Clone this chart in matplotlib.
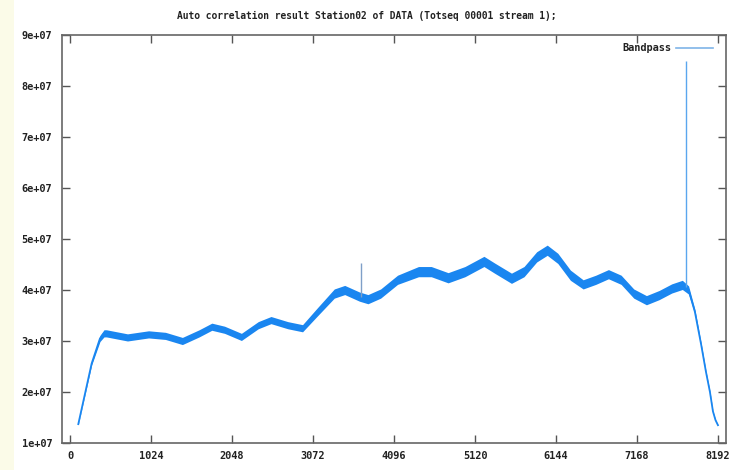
import matplotlib
matplotlib.use("Agg")
import matplotlib.pyplot as plt
import numpy as np

# ---- data ----
title = "Auto correlation result Station02 of DATA (Totseq 00001 stream 1);"
series_name = "Bandpass"
channels = [105, 274, 379, 430, 460, 727, 994, 1207, 1421, 1633, 1793, 1954,
            2167, 2380, 2541, 2753, 2940, 3127, 3341, 3473, 3660, 3767, 3927,
            4141, 4406, 4567, 4780, 4993, 5233, 5367, 5581, 5740, 5900, 6033,
            6167, 6326, 6487, 6647, 6807, 6967, 7127, 7287, 7447, 7607, 7741,
            7820, 7900, 7980, 8039, 8090, 8128, 8160, 8191]
power = [1.37e7, 2.56e7, 3.05e7, 3.15e7, 3.15e7, 3.07e7, 3.13e7, 3.10e7, 3.00e7,
         3.15e7, 3.28e7, 3.22e7, 3.08e7, 3.31e7, 3.41e7, 3.31e7, 3.25e7, 3.57e7,
         3.93e7, 4.00e7, 3.87e7, 3.82e7, 3.93e7, 4.20e7, 4.36e7, 4.36e7, 4.24e7,
         4.36e7, 4.56e7, 4.43e7, 4.23e7, 4.36e7, 4.65e7, 4.78e7, 4.62e7, 4.29e7,
         4.11e7, 4.20e7, 4.31e7, 4.20e7, 3.93e7, 3.80e7, 3.90e7, 4.03e7, 4.10e7,
         4.00e7, 3.57e7, 2.92e7, 2.40e7, 2.00e7, 1.62e7, 1.45e7, 1.35e7]
noise_halfwidth = [0.01e7, 0.03e7, 0.06e7, 0.07e7, 0.07e7, 0.07e7, 0.07e7, 0.07e7,
                   0.07e7, 0.07e7, 0.07e7, 0.07e7, 0.07e7, 0.07e7, 0.07e7, 0.07e7,
                   0.07e7, 0.08e7, 0.09e7, 0.09e7, 0.09e7, 0.09e7, 0.09e7, 0.09e7,
                   0.10e7, 0.10e7, 0.10e7, 0.10e7, 0.10e7, 0.10e7, 0.10e7, 0.10e7,
                   0.10e7, 0.10e7, 0.10e7, 0.10e7, 0.09e7, 0.09e7, 0.09e7, 0.09e7,
                   0.09e7, 0.09e7, 0.09e7, 0.09e7, 0.09e7, 0.08e7, 0.05e7, 0.03e7,
                   0.02e7, 0.02e7, 0.01e7, 0.01e7, 0.01e7]
spike_channels = [3678, 7786]
spike_base = [3.86e7, 4.05e7]
spike_top = [4.52e7, 8.49e7]
xticks = [0, 1024, 2048, 3072, 4096, 5120, 6144, 7168, 8192]
yticks = [1e7, 2e7, 3e7, 4e7, 5e7, 6e7, 7e7, 8e7, 9e7]
ytick_labels = ["1e+07", "2e+07", "3e+07", "4e+07", "5e+07", "6e+07", "7e+07", "8e+07", "9e+07"]

# ---- style ----
W, H = 741, 470
color = "#1a86f0"
font = dict(family="DejaVu Sans Mono", weight="bold", size=7.4)
title_font = dict(family="DejaVu Sans Mono", weight="bold", size=6.9)

fig = plt.figure(figsize=(W / 100, H / 100), dpi=100)
fig.patch.set_facecolor("white")
# faint cream strip on left edge
fig.patches.append(plt.Rectangle((0, 0), 14 / W, 1, transform=fig.transFigure,
                                 facecolor="#fbfbe8", edgecolor="none", zorder=0))

ax = fig.add_axes([62 / W, 1 - 443 / H, (726 - 62) / W, (443 - 35) / H])
ax.set_xlim(-101, 8293)
ax.set_ylim(1e7, 9e7)

lo = np.array(power) - np.array(noise_halfwidth)
hi = np.array(power) + np.array(noise_halfwidth)
ax.fill_between(channels, lo, hi, color=color, linewidth=0, zorder=2)
ax.plot(channels, power, color=color, linewidth=1.3, zorder=3)
ax.vlines(spike_channels, spike_base, spike_top, color=["#7f9fc8", "#5aa6ee"],
          linewidth=1.0, zorder=3)

ax.set_xticks(xticks)
ax.set_xticklabels([str(t) for t in xticks], fontdict=font)
ax.set_yticks(yticks)
ax.set_yticklabels(ytick_labels, fontdict=font)
ax.tick_params(direction="in", length=5.5, width=1.0, color="#555555",
               top=True, right=True, labelcolor="#222222")
ax.tick_params(axis="x", pad=6)
ax.tick_params(axis="y", pad=7)
for s in ax.spines.values():
    s.set_color("#666666")
    s.set_linewidth(1.2)

# legend (gnuplot style key)
ax.text(0.917, 0.967, series_name, transform=ax.transAxes, ha="right", va="center",
        fontdict=font, color="#222222")
ax.plot([0.925, 0.981], [0.967, 0.967], transform=ax.transAxes, color="#7fb4e8",
        linewidth=1.2, zorder=4)

fig.text(0.495, 1 - 16 / H, title, ha="center", va="center", fontdict=title_font,
         color="#222222")

fig.savefig("out.png", dpi=100)
